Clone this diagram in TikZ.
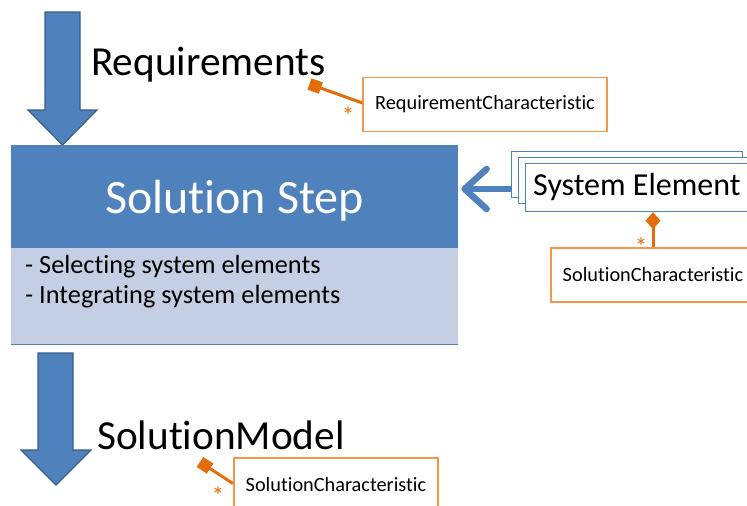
\documentclass[tikz,border=0pt]{standalone}
\usepackage{fontspec}
\setmainfont{Carlito}[RawFeature=-liga]
\usetikzlibrary{arrows.meta}
\definecolor{stepblue}{HTML}{4F81BD}
\definecolor{stepdark}{HTML}{385D8A}
\definecolor{steplight}{HTML}{C4CFE3}
\definecolor{charline}{HTML}{E46C0A}
\definecolor{charbox}{HTML}{F79646}
\newcommand{\fs}[1]{\fontsize{#1}{1.2\dimexpr#1pt\relax}\selectfont}
\tikzset{
  bigarrow/.style={fill=stepblue, draw=stepdark, line width=1.2pt, line join=miter},
  bigtext/.style={anchor=base west, inner sep=0pt, font=\fs{41.3}},
  charnode/.style={draw=charbox, line width=1.6pt, fill=white, minimum height=54pt,
    inner xsep=12pt, inner ysep=0pt, font=\fs{20.3}},
  charlink/.style={draw=charline, line width=3pt},
  multnode/.style={anchor=base, inner sep=0pt, text=charline, font=\fs{25}},
  sysbox/.style={draw=stepblue, line width=1.2pt, fill=white, minimum width=231pt,
    minimum height=46pt, inner sep=0pt},
}
\begin{document}
\begin{tikzpicture}[x=1pt,y=-1pt]
\useasboundingbox (0,0) rectangle (747,506);
\clip (0,0) rectangle (747,506);

% incoming and outgoing block arrows
\draw[bigarrow] (45,12) -- (80,12) -- (80,110) -- (97,110) -- (62.5,145)
  -- (28,110) -- (45,110) -- cycle;
\draw[bigarrow] (38,353) -- (73,353) -- (73,450) -- (91,450) -- (56,485)
  -- (21,450) -- (38,450) -- cycle;

% solution step block
\node[fill=stepblue, minimum width=447pt, minimum height=103pt, inner sep=0pt,
  anchor=north west] (step) at (11,145) {};
\node[fill=steplight, minimum width=447pt, minimum height=96pt, inner sep=0pt,
  anchor=north west] (stepbody) at (11,248) {};
\draw[stepblue, line width=1.6pt] (stepbody.south west) -- (stepbody.south east);
\node[anchor=base, inner sep=0pt, text=white, font=\fs{48}] (steptitle) at (234.5,213) {Solution Step};
\node[anchor=base west, inner sep=0pt, font=\fs{26.3}] (act1) at (25,273) {- Selecting system elements};
\node[anchor=base west, inner sep=0pt, font=\fs{26.3}] (act2) at (25,303) {- Integrating system elements};

% labels on the flows
\node[bigtext] (req) at (91,75) {Requirements};
\node[bigtext] (solmodel) at (97,449) {SolutionModel};

% stacked system elements
\node[sysbox, anchor=north west] (sysback) at (511,151) {};
\node[sysbox, anchor=north west] (sysmid) at (518,157) {};
\node[sysbox, anchor=north west, minimum height=48pt] (sysfront) at (525,163) {};
\node[anchor=base west, inner sep=0pt, font=\fs{32}] (systext) at (533,195) {System Element};
\draw[stepblue, line width=6.5pt, shorten >=3pt,
  -{Straight Barb[length=22pt, width=40pt, round]}]
  (sysback.west |- 0,189) -- (step.east |- 0,189);

% characteristics
\node[charnode] (reqchar) at (485,104.5) {RequirementCharacteristic};
\node[charnode] (solchar) at (653,275) {SolutionCharacteristic};
\node[charnode] (modelchar) at (336,485) {SolutionCharacteristic};

\coordinate (reqend) at (309.5,84);
\coordinate (modelend) at (200,462);
\draw[charlink, -{Square[length=12pt, width=12pt]}] (reqchar.west |- 0,103) -- (reqend);
\draw[charlink, -{Square[length=12pt, width=12pt]}] (modelchar.west |- 0,483.5) -- (modelend);
\draw[charlink, -{Diamond[length=17pt, width=15pt]}] (solchar.north) -- ++(0,-35);

\node[multnode] (reqmult) at (348,124) {*};
\node[multnode] (solmult) at (641,255) {*};
\node[multnode] (modelmult) at (218,504) {*};
\end{tikzpicture}
\end{document}
